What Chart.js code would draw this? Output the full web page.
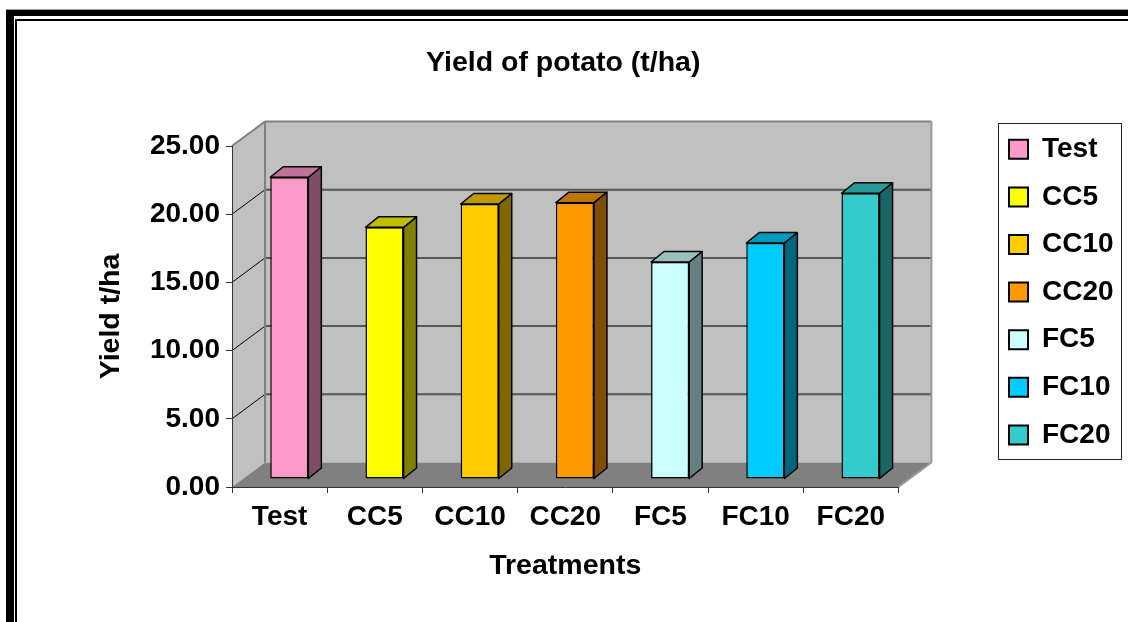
<!DOCTYPE html>
<html>
<head>
<meta charset="utf-8">
<script src="https://cdn.jsdelivr.net/npm/chart.js@4.4.1/dist/chart.umd.min.js"></script>
<style>
  html, body { margin: 0; padding: 0; background: #fff; }
  #wrap { width: 1128px; height: 622px; }
</style>
</head>
<body>
<div id="wrap"><canvas id="potatoChart" width="1128" height="622"></canvas></div>
<script>
// data
const treatments = ['Test', 'CC5', 'CC10', 'CC20', 'FC5', 'FC10', 'FC20'];
const yieldValues = [22.12, 18.45, 20.16, 20.26, 15.91, 17.30, 20.95];
const yTicks = [0, 5, 10, 15, 20, 25];
const yTickLabels = ['0.00', '5.00', '10.00', '15.00', '20.00', '25.00'];

// excel style colours: face, side (darker), top
const frontColors = ['#FF99CC', '#FFFF00', '#FFCC00', '#FF9900', '#CCFFFF', '#00CCFF', '#33CCCC'];
const sideColors = ['#804D66', '#808000', '#806600', '#804D00', '#668080', '#006680', '#1A6666'];
const topColors = ['#BF7399', '#BFBF00', '#BF9900', '#BF7300', '#99BFBF', '#0099BF', '#269999'];

const fontFamily = "'Liberation Sans', Arial, sans-serif";
const titleFont = { family: fontFamily, size: 28.5, weight: 'bold' };
const tickFont = { family: fontFamily, size: 28, weight: 'bold' };

// 3d look
const wallDepth = { x: 33, y: -24.5 };
const barShift = { x: 9.7, y: -8 };
const barDepth = { x: 13, y: -10.5 };
const legendSpot = { boxLeft: 1009, itemTop: 135.3 };

function poly(ctx, pts) {
  ctx.beginPath();
  ctx.moveTo(pts[0][0], pts[0][1]);
  for (let i = 1; i < pts.length; i++) ctx.lineTo(pts[i][0], pts[i][1]);
  ctx.closePath();
}

function line(ctx, x1, y1, x2, y2) {
  ctx.beginPath();
  ctx.moveTo(x1, y1);
  ctx.lineTo(x2, y2);
  ctx.stroke();
}

const box3d = {
  id: 'box3d',
  afterLayout(chart) {
    // move the legend to where excel put it
    const lg = chart.legend;
    if (!lg || !lg.columnSizes) return;
    const pad = lg.options.labels.padding;
    const startY = (lg.top + pad + lg.bottom - lg.columnSizes[0].height) / 2;
    const sy = legendSpot.itemTop - startY;
    const sx = legendSpot.boxLeft - pad - lg.left;
    lg.top += sy; lg.bottom += sy;
    lg.left += sx; lg.right += sx;
  },
  beforeDraw(chart) {
    const ctx = chart.ctx;
    const { left, right, top, bottom } = chart.chartArea;
    const dx = wallDepth.x, dy = wallDepth.y;
    ctx.save();

    // picture frame
    ctx.fillStyle = '#9a9a9a';
    ctx.fillRect(6, 9, chart.width, 1);
    ctx.fillStyle = '#000';
    ctx.fillRect(6, 10, chart.width, 6);
    ctx.fillRect(6, 10, 8, chart.height);
    ctx.fillRect(15, 19, chart.width, 2);
    ctx.fillRect(15, 19, 2, chart.height);

    // walls and floor
    ctx.fillStyle = '#C0C0C0';
    poly(ctx, [[left, top], [left + dx, top + dy], [left + dx, bottom + dy], [left, bottom]]);
    ctx.fill();
    ctx.fillRect(left + dx, top + dy, right - left, bottom - top);
    ctx.fillStyle = '#808080';
    poly(ctx, [[left, bottom], [left + dx, bottom + dy], [right + dx, bottom + dy], [right, bottom]]);
    ctx.fill();

    // gridlines on the back wall, diagonals on the side wall
    const ys = chart.scales.y;
    ys.ticks.forEach(t => {
      if (t.value <= 0 || t.value >= 25) return;
      const py = ys.getPixelForValue(t.value);
      ctx.strokeStyle = '#555';
      ctx.lineWidth = 2;
      line(ctx, left + dx, py + dy, right + dx, py + dy);
      ctx.strokeStyle = '#000';
      ctx.lineWidth = 1;
      line(ctx, left, py, left + dx, py + dy);
    });

    // wall edges
    ctx.strokeStyle = '#808080';
    ctx.lineWidth = 2;
    line(ctx, left, top, left + dx, top + dy);
    line(ctx, left + dx, top + dy, right + dx, top + dy);
    line(ctx, left + dx, top + dy, left + dx, bottom + dy);
    ctx.strokeStyle = '#999';
    line(ctx, right + dx, top + dy, right + dx, bottom + dy);
    line(ctx, right, bottom, right + dx, bottom + dy);
    ctx.restore();
  },
  beforeDatasetsDraw(chart) {
    chart.ctx.save();
    chart.ctx.translate(barShift.x, barShift.y);
  },
  afterDatasetsDraw(chart) {
    const ctx = chart.ctx;
    const meta = chart.getDatasetMeta(0);
    ctx.lineWidth = 1.5;
    ctx.strokeStyle = '#000';
    ctx.lineJoin = 'round';
    meta.data.forEach((bar, i) => {
      const { x, y, base, width } = bar.getProps(['x', 'y', 'base', 'width'], true);
      const l = x - width / 2, r = x + width / 2;
      const bx = barDepth.x, by = barDepth.y;
      poly(ctx, [[r, y], [r + bx, y + by], [r + bx, base + by], [r, base]]);
      ctx.fillStyle = sideColors[i];
      ctx.fill();
      ctx.stroke();
      poly(ctx, [[l, y], [l + bx, y + by], [r + bx, y + by], [r, y]]);
      ctx.fillStyle = topColors[i];
      ctx.fill();
      ctx.stroke();
    });
    ctx.restore();
  },
  afterDraw(chart) {
    const lg = chart.legend;
    const ctx = chart.ctx;
    const pad = lg.options.labels.padding;
    const bl = lg.left + pad;
    const it = (lg.top + pad + lg.bottom - lg.columnSizes[0].height) / 2;
    ctx.save();
    ctx.strokeStyle = '#222';
    ctx.lineWidth = 1;
    ctx.strokeRect(Math.round(bl - 11) + 0.5, Math.round(it - 12.5) + 0.5, 123, 336);
    ctx.restore();
  }
};

new Chart(document.getElementById('potatoChart'), {
  type: 'bar',
  data: {
    labels: treatments,
    datasets: [{
      label: 'Yield of potato (t/ha)',
      data: yieldValues,
      backgroundColor: frontColors,
      borderColor: '#000',
      borderWidth: 1.5,
      borderSkipped: false,
      barPercentage: 0.4,
      categoryPercentage: 1,
      clip: false
    }]
  },
  options: {
    responsive: false,
    animation: false,
    devicePixelRatio: 1,
    layout: { padding: { top: 20, left: 93.9, right: 95.4, bottom: 38.9 } },
    scales: {
      x: {
        grid: { drawOnChartArea: false, tickLength: 6, color: '#333', offset: true },
        border: { display: true, color: '#333', width: 1 },
        ticks: { color: '#000', font: tickFont, padding: 7.5, maxRotation: 0, autoSkip: false },
        title: { display: true, text: 'Treatments', color: '#000', font: titleFont, padding: { top: 7.3, bottom: 0 } }
      },
      y: {
        min: 0,
        max: 25,
        afterFit(scale) { scale.width = 138.1; },
        afterBuildTicks(scale) { scale.ticks = yTicks.map(v => ({ value: v })); },
        grid: { drawOnChartArea: false, tickLength: 6, color: '#333' },
        border: { display: true, color: '#333', width: 1 },
        ticks: {
          color: '#000',
          font: tickFont,
          padding: 6,
          callback: (value, index) => yTickLabels[index]
        },
        title: { display: true, text: 'Yield t/ha', color: '#000', font: titleFont, padding: { top: 0, bottom: 0 } }
      }
    },
    plugins: {
      title: {
        display: true,
        text: 'Yield of potato (t/ha)',
        color: '#000',
        font: titleFont,
        padding: { top: 25.9, bottom: 65.9 }
      },
      legend: {
        position: 'right',
        labels: {
          color: '#000',
          font: tickFont,
          boxWidth: 19,
          boxHeight: 19,
          padding: 19.6,
          generateLabels: (chart) => treatments.map((t, i) => ({
            text: t,
            fillStyle: frontColors[i],
            strokeStyle: '#000',
            lineWidth: 2,
            fontColor: '#000',
            hidden: false,
            index: i
          }))
        }
      },
      tooltip: { enabled: false }
    }
  },
  plugins: [box3d]
});
</script>
</body>
</html>
